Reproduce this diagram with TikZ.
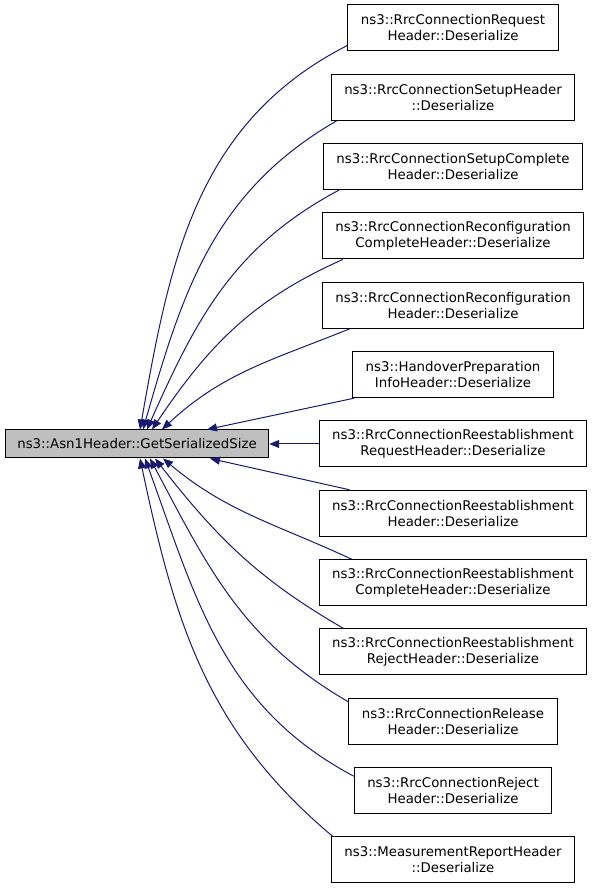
\documentclass[tikz,border=0pt]{standalone}
\usepackage{fontspec}
\setmainfont{DejaVu Sans}
\usetikzlibrary{calc,arrows.meta}
\definecolor{callblue}{HTML}{191970}
\definecolor{curgray}{HTML}{BFBFBF}

\begin{document}
\begin{tikzpicture}[x=0.75pt,y=0.75pt,
    fn/.style={draw=black,fill=white,line width=0.75pt,align=center,
      font=\fontsize{10}{12}\selectfont,inner xsep=9.8pt,inner ysep=0pt,minimum height=34.5pt},
    cur/.style={fn,fill=curgray,inner xsep=9pt,minimum height=21pt},
    call/.style={draw=callblue,line width=0.75pt,-{Triangle[length=7.5pt,width=6pt]}}]
    \useasboundingbox (0,0) rectangle (595,888);

    \node[cur] (gss) at (137,444) {ns3::Asn1Header::GetSerializedSize};

    \node[fn] (d1)  at (453,860)   {ns3::RrcConnectionRequest\\Header::Deserialize};
    \node[fn] (d2)  at (453,790.7) {ns3::RrcConnectionSetupHeader\\::Deserialize};
    \node[fn] (d3)  at (453,721.3) {ns3::RrcConnectionSetupComplete\\Header::Deserialize};
    \node[fn] (d4)  at (453,652)   {ns3::RrcConnectionReconfiguration\\CompleteHeader::Deserialize};
    \node[fn] (d5)  at (453,582.7) {ns3::RrcConnectionReconfiguration\\Header::Deserialize};
    \node[fn] (d6)  at (453,513.3) {ns3::HandoverPreparation\\InfoHeader::Deserialize};
    \node[fn] (d7)  at (453,444)   {ns3::RrcConnectionReestablishment\\RequestHeader::Deserialize};
    \node[fn] (d8)  at (453,374.7) {ns3::RrcConnectionReestablishment\\Header::Deserialize};
    \node[fn] (d9)  at (453,305.3) {ns3::RrcConnectionReestablishment\\CompleteHeader::Deserialize};
    \node[fn] (d10) at (453,236)   {ns3::RrcConnectionReestablishment\\RejectHeader::Deserialize};
    \node[fn] (d11) at (453,166.7) {ns3::RrcConnectionRelease\\Header::Deserialize};
    \node[fn] (d12) at (453,97.3)  {ns3::RrcConnectionReject\\Header::Deserialize};
    \node[fn] (d13) at (453,28)    {ns3::MeasurementReportHeader\\::Deserialize};

    % callers above
    \path ($(d1.south west)+(0,6)$)  edge[call,out=207,in=80] ($(gss.north)+(3,0)$);
    \path ($(d2.south west)+(6,0)$)  edge[call,out=210,in=74] ($(gss.north)+(6,0)$);
    \path ($(d3.south west)+(16,0)$) edge[call,out=208,in=66] ($(gss.north)+(10,0)$);
    \path ($(d4.south west)+(21,0)$) edge[call,out=204,in=56] ($(gss.north)+(15,0)$);
    \path ($(d5.south west)+(28,0)$) edge[call,out=202,in=43] ($(gss.north)+(25,0)$);
    \path ($(d6.south west)+(2,0)$)  edge[call] ($(gss.north)+(70,0)$);
    \path (d7) edge[call] (gss);
    % callers below
    \path ($(d8.north west)+(31,0)$)  edge[call] ($(gss.south)+(73,0)$);
    \path ($(d9.north west)+(33,0)$)  edge[call,out=155,in=-40] ($(gss.south)+(26,0)$);
    \path ($(d10.north west)+(25,0)$) edge[call,out=150,in=-52] ($(gss.south)+(18,0)$);
    \path ($(d11.north west)+(0,-4)$) edge[call,out=150,in=-62] ($(gss.south)+(13,0)$);
    \path ($(d12.north west)+(0,-9)$) edge[call,out=152,in=-70] ($(gss.south)+(8,0)$);
    \path ($(d13.north west)+(2,0)$)  edge[call,out=140,in=-78] ($(gss.south)+(3,0)$);
\end{tikzpicture}
\end{document}
